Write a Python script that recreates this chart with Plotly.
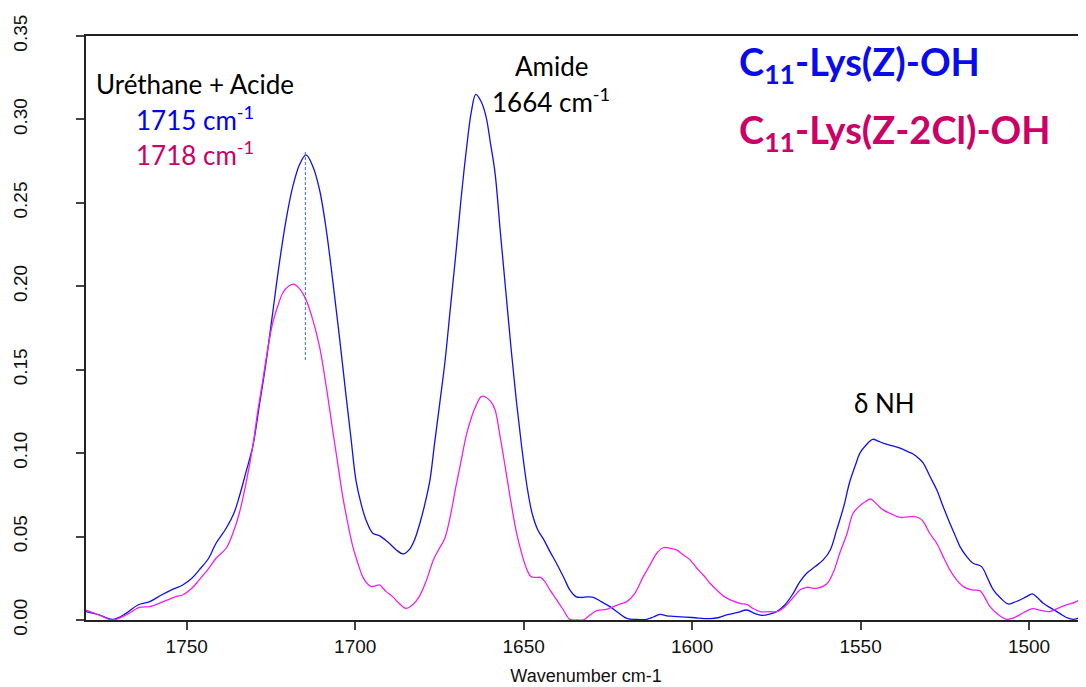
import plotly.graph_objects as go

# Wavenumber (cm-1) and absorbance
wn_z = [1779.9, 1776, 1772, 1768, 1764.5, 1761, 1757.5, 1754.2, 1751.2, 1748.5, 1746.3, 1743.5, 1741.3,
        1738.3, 1736, 1734.4, 1732.5, 1730.4, 1728.5, 1726.5, 1724.5, 1722.5, 1720.5, 1718.5, 1716.5,
        1714.6, 1712.6, 1710.6, 1708.6, 1706.7, 1704.7, 1702.7, 1701.2, 1699.8, 1698.3, 1696.8, 1694.8,
        1692.6, 1689.9, 1687.8, 1685.7, 1684, 1682.4, 1680.8, 1679.5, 1677.8, 1676.5, 1674.9, 1673.4,
        1671.8, 1670.2, 1668.6, 1667, 1665.5, 1664.2, 1662.7, 1661.2, 1659.8, 1658.5, 1656.9, 1655.3,
        1653.7, 1652.2, 1650.6, 1649, 1647.5, 1645.8, 1644, 1642.2, 1640, 1638, 1636.3, 1634.5, 1633,
        1631, 1629.3, 1627, 1624.4, 1622, 1619.4, 1616, 1613.5, 1611.5, 1609.6, 1607.5, 1605.6, 1600,
        1594.7, 1592, 1589.8, 1586.5, 1583.8, 1581.5, 1579.4, 1577, 1574.9, 1572.5, 1570, 1568, 1566,
        1563.5, 1561.1, 1559, 1557.1, 1555, 1553.2, 1551.5, 1550.2, 1548.3, 1546.4, 1544.8, 1543.3,
        1540.8, 1538.3, 1536.3, 1534.4, 1532.8, 1531.4, 1529.4, 1527.4, 1525.5, 1523.5, 1522, 1520.5,
        1518.5, 1516.6, 1514.1, 1512.3, 1510.6, 1508.4, 1506.2, 1504.5, 1502.7, 1500.8, 1499, 1497.3,
        1495.8, 1493.4, 1490.9, 1488.9, 1486.9, 1485, 1483.1]
abs_z = [0.005, 0.003, 0.0004, 0.004, 0.009, 0.011, 0.015, 0.0184, 0.021, 0.025, 0.030, 0.037, 0.046,
         0.055, 0.064, 0.074, 0.088, 0.104, 0.128, 0.154, 0.184, 0.214, 0.240, 0.260, 0.273,
         0.2787, 0.272, 0.258, 0.234, 0.204, 0.170, 0.134, 0.108, 0.084, 0.070, 0.060, 0.052,
         0.0503, 0.046, 0.042, 0.0396, 0.042, 0.048, 0.058, 0.068, 0.084, 0.105, 0.130, 0.154,
         0.186, 0.218, 0.252, 0.282, 0.305, 0.315, 0.311, 0.302, 0.285, 0.268, 0.232, 0.197,
         0.162, 0.132, 0.104, 0.080, 0.064, 0.054, 0.048, 0.041, 0.033, 0.025, 0.018, 0.014, 0.0135,
         0.0138, 0.0136, 0.011, 0.008, 0.0045, 0.001, 0.0003, 0.0004, 0.0018, 0.0034, 0.0025, 0.0022, 0.0015,
         0.0008, 0.0015, 0.003, 0.0045, 0.006, 0.004, 0.0028, 0.0035, 0.005, 0.009, 0.016, 0.023, 0.028,
         0.032, 0.036, 0.042, 0.054, 0.068, 0.083, 0.093, 0.100, 0.105, 0.1083, 0.1072, 0.106,
         0.1045, 0.103, 0.1012, 0.0995, 0.097, 0.094, 0.086, 0.078, 0.068, 0.058, 0.051, 0.044,
         0.038, 0.034, 0.032, 0.025, 0.018, 0.013, 0.0096, 0.0105, 0.012, 0.014, 0.0156, 0.013,
         0.010, 0.007, 0.004, 0.0015, 0.0004, 0.0015, 0.004]

wn_zcl = [1779.9, 1776, 1772, 1768, 1764, 1761, 1757, 1753.2, 1751.2, 1748.5, 1746.3, 1743.8, 1741.3,
          1738.3, 1736.3, 1734.4, 1732.4, 1730.4, 1729, 1727.4, 1726, 1724.5, 1723, 1721.5, 1719.8,
          1718.1, 1716.3, 1714.6, 1712.6, 1710.6, 1708.6, 1706.7, 1705.2, 1703.7, 1702.2, 1700.7, 1699.2,
          1697.8, 1696.5, 1695.3, 1694, 1692.8, 1690.8, 1688.9, 1687, 1685, 1683, 1681, 1679, 1676.8,
          1675, 1673.4, 1671.8, 1670.2, 1668.6, 1667, 1665.4, 1663.8, 1662.5, 1661.2, 1659.8, 1658.5,
          1657, 1655.3, 1653.8, 1652.2, 1650.6, 1649, 1647.8, 1646.5, 1645, 1643.7, 1642.2, 1640.2,
          1638.2, 1636.3, 1634, 1632.3, 1630.3, 1628.3, 1625.4, 1623.4, 1621.4, 1619.4, 1617, 1614.5,
          1612.5, 1610.5, 1608.6, 1606.5, 1604.6, 1602.6, 1600.6, 1598.6, 1596.7, 1594.7, 1592.7, 1590.5,
          1588.1, 1585.5, 1583.8, 1582, 1579.8, 1577, 1574.9, 1572.5, 1570, 1568, 1566, 1563.1, 1560.1,
          1558, 1556.2, 1554, 1552.2, 1550.2, 1548.5, 1547, 1545, 1543.3, 1540.8, 1538.3, 1535.8,
          1533.9, 1532.5, 1531.4, 1529.5, 1527.4, 1525.5, 1523.5, 1521.5, 1519.5, 1517, 1514.6, 1513,
          1511.6, 1509, 1506.7, 1505, 1503.8, 1501.5, 1499, 1496.5, 1493.9, 1491.5, 1488.9, 1486, 1483.1]
abs_zcl = [0.006, 0.003, 0.0, 0.003, 0.0076, 0.008, 0.011, 0.014, 0.015, 0.019, 0.024, 0.030, 0.037,
           0.043, 0.052, 0.064, 0.082, 0.104, 0.124, 0.144, 0.162, 0.178, 0.188, 0.196, 0.200,
           0.2012, 0.198, 0.192, 0.180, 0.164, 0.140, 0.114, 0.094, 0.074, 0.058, 0.044, 0.034,
           0.026, 0.022, 0.020, 0.0205, 0.021, 0.017, 0.014, 0.010, 0.007, 0.009, 0.014, 0.023, 0.036,
           0.043, 0.049, 0.062, 0.079, 0.095, 0.111, 0.122, 0.130, 0.134, 0.1335, 0.131, 0.126,
           0.110, 0.0895, 0.071, 0.053, 0.040, 0.030, 0.026, 0.0255, 0.0255, 0.023, 0.018, 0.012,
           0.006, 0.0004, 0.0, 0.0, 0.003, 0.0056, 0.0064, 0.008, 0.0095, 0.011, 0.016, 0.026,
           0.033, 0.040, 0.0433, 0.043, 0.042, 0.039, 0.036, 0.031, 0.027, 0.022, 0.018, 0.014,
           0.0116, 0.0098, 0.0094, 0.007, 0.005, 0.005, 0.005, 0.008, 0.0135, 0.018, 0.0196, 0.019, 0.0216,
           0.029, 0.040, 0.052, 0.064, 0.0685, 0.071, 0.0725, 0.069, 0.066, 0.0635, 0.0615, 0.0618,
           0.062, 0.061, 0.059, 0.052, 0.046, 0.038, 0.030, 0.024, 0.020, 0.018, 0.0176, 0.013,
           0.008, 0.003, 0.0004, 0.001, 0.002, 0.0045, 0.0068, 0.0058, 0.005, 0.007, 0.009, 0.011, 0.016]

x_ticks = [1750, 1700, 1650, 1600, 1550, 1500]
y_ticks = [0.00, 0.05, 0.10, 0.15, 0.20, 0.25, 0.30, 0.35]
marker_wn = 1714.8
marker_abs = [0.1558, 0.2807]

BLUE = "#1010F0"
MAGENTA = "#F020F0"
TXT_MAG = "#CC0066"
TXT_FONT = "Lato, Open Sans, sans-serif"
AX_FONT = "Liberation Sans, Arial, sans-serif"

fig = go.Figure()
fig.add_trace(go.Scatter(x=wn_z, y=abs_z, mode="lines", line=dict(color=BLUE, width=1.3, shape="spline"),
                         name="C11-Lys(Z)-OH", showlegend=False))
fig.add_trace(go.Scatter(x=wn_zcl, y=abs_zcl, mode="lines", line=dict(color=MAGENTA, width=1.3, shape="spline"),
                         name="C11-Lys(Z-2Cl)-OH", showlegend=False))
fig.add_trace(go.Scatter(x=[marker_wn, marker_wn], y=marker_abs, mode="lines",
                         line=dict(color="#3B6BB5", width=1, dash="3px,2px"), showlegend=False))

# paper coordinates in page pixels: plot area is x 86..1086, y 36..620
def px(xp):
    return (xp - 86) / 1000.0
def py(yp):
    return (620 - yp) / 584.0

def ann(text, x, y, color, size, anchor="center"):
    fig.add_annotation(text=text, x=px(x), y=py(y), xref="paper", yref="paper", xanchor=anchor,
                       yanchor="middle", showarrow=False, font=dict(family=TXT_FONT, size=size, color=color))

ann("Uréthane + Acide", 195, 84, "black", 26)
ann("1715 cm<sup>-1</sup>", 195, 119, "#0000EE", 26)
ann("1718 cm<sup>-1</sup>", 195, 153, TXT_MAG, 26)
ann("Amide", 551, 66, "black", 26)
ann("1664 cm<sup>-1</sup>", 551, 100, "black", 26)
ann("δ NH", 884, 403, "black", 26)
ann("<b>C<sub>11</sub>-Lys(Z)-OH</b>", 737, 64, "#0A0AEE", 38, anchor="left")
ann("<b>C<sub>11</sub>-Lys(Z-2Cl)-OH</b>", 737, 132, TXT_MAG, 38, anchor="left")

# the page body adds an 8px offset, so the figure is 8px smaller and margins shifted
fig.update_layout(
    width=1078, height=679,
    margin=dict(l=78, r=0, t=28, b=67),
    plot_bgcolor="white", paper_bgcolor="white",
    xaxis=dict(range=[1779.9, 1483.1], tickvals=x_ticks, ticktext=[str(v) for v in x_ticks],
               showgrid=False, zeroline=False, showline=True, linecolor="#222", linewidth=1.5,
               mirror=True, ticks="outside", ticklen=8, tickcolor="#444", tickwidth=1.5, automargin=False,
               tickfont=dict(family=AX_FONT, size=19, color="#111"),
               title=dict(text="Wavenumber cm-1", font=dict(family=AX_FONT, size=18, color="#111"), standoff=14)),
    yaxis=dict(range=[0, 0.35], tickvals=y_ticks, ticktext=["%.2f" % v for v in y_ticks],
               showgrid=False, zeroline=False, showline=True, linecolor="#222", linewidth=1.5,
               ticks="outside", ticklen=8, tickcolor="#444", tickwidth=1.5, tickangle=-90,
               ticklabelstandoff=42, automargin=False,
               tickfont=dict(family=AX_FONT, size=19, color="#111")),
)

fig.write_html("out.html")
